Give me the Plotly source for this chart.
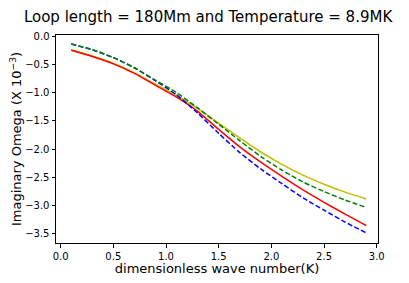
import plotly.graph_objects as go

k = [0.1, 0.3, 0.5, 0.7, 0.9, 1.1, 1.3, 1.5, 1.7, 1.9, 2.1, 2.3, 2.5, 2.7, 2.9]
yellow = [-0.24, -0.35, -0.48, -0.65, -0.85, -1.05, -1.28, -1.54, -1.80, -2.05, -2.27, -2.46, -2.62, -2.76, -2.88]
red = [-0.25, -0.36, -0.49, -0.66, -0.87, -1.08, -1.33, -1.65, -1.96, -2.23, -2.48, -2.72, -2.94, -3.15, -3.35]
blue = [-0.14, -0.24, -0.38, -0.56, -0.79, -1.04, -1.36, -1.72, -2.06, -2.35, -2.61, -2.86, -3.08, -3.29, -3.48]
green = [-0.14, -0.24, -0.38, -0.56, -0.78, -1.00, -1.27, -1.56, -1.85, -2.13, -2.37, -2.58, -2.75, -2.90, -3.03]

xticks = [0.0, 0.5, 1.0, 1.5, 2.0, 2.5, 3.0]
yticks = [0.0, -0.5, -1.0, -1.5, -2.0, -2.5, -3.0, -3.5]

fig = go.Figure()
series = [
    (yellow, "#bfbf00", "solid"),
    (red, "#ff0000", "solid"),
    (blue, "#0000ff", "5px,2.4px"),
    (green, "#008000", "5px,2.4px"),
]
for vals, col, dash in series:
    fig.add_trace(go.Scatter(x=k, y=vals, mode="lines", line=dict(color=col, width=1.5, dash=dash, shape="spline", smoothing=0.6), showlegend=False))

font = "DejaVu Sans"
# page body has an 8px default margin; the figure is sized to compensate
fig.update_layout(
    width=401, height=275,
    margin=dict(l=48, r=31, t=27, b=40),
    paper_bgcolor="white", plot_bgcolor="white",
    font=dict(family=font, color="black", size=10),
    title=dict(text="Loop length = 180Mm and Temperature = 8.9MK", x=0.499, xanchor="center", y=0.968, yanchor="middle",
               font=dict(family=font, size=15, color="black")),
)
fig.update_xaxes(
    range=[-0.044, 3.012], tickvals=xticks, ticktext=[f"{v:.1f}" for v in xticks],
    ticks="outside", ticklen=3.5, tickwidth=0.8, tickcolor="black", automargin=False,
    showline=True, linecolor="black", linewidth=1, mirror=True, showgrid=False, zeroline=False,
    tickfont=dict(size=10),
    title=dict(text="dimensionless wave number(K)", font=dict(size=13), standoff=3),
)
fig.update_yaxes(
    range=[-3.66, 0.02], tickvals=yticks, ticktext=[f"{v:.1f}".replace("-", "\u2212") for v in yticks],
    ticks="outside", ticklen=3.5, tickwidth=0.8, tickcolor="black", automargin=False,
    showline=True, linecolor="black", linewidth=1, mirror=True, showgrid=False, zeroline=False,
    tickfont=dict(size=10),
    title=dict(text="Imaginary Omega (X 10<sup>\u22123</sup>)", font=dict(size=13), standoff=4),
)
fig.write_html("out.html")
